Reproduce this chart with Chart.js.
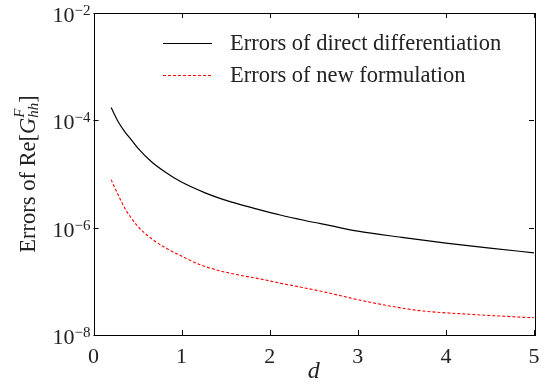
<!DOCTYPE html>
<html>
<head>
<meta charset="utf-8">
<script src="https://cdn.jsdelivr.net/npm/chart.js@4"></script>
<style>
  body { margin: 0; background: #fff; }
  #wrap { width: 552px; height: 387px; }
</style>
</head>
<body>
<div id="wrap"><canvas id="chart" width="552" height="387"></canvas></div>
<script>
const serif = "'Liberation Serif', 'DejaVu Serif', serif";

// d values and errors
const dDirect = [0.2, 0.282, 0.358, 0.434, 0.509, 0.661, 0.813, 0.983, 1.267, 1.55, 1.835, 2.12, 2.4, 2.69, 3.0, 3.5, 4.0, 4.5, 5.0];
const errDirect = [1.73e-4, 9.3e-5, 6.05e-5, 4.24e-5, 2.97e-5, 1.67e-5, 1.09e-5, 7.3e-6, 4.45e-6, 3.05e-6, 2.27e-6, 1.72e-6, 1.36e-6, 1.09e-6, 8.6e-7, 6.6e-7, 5.15e-7, 4.15e-7, 3.4e-7];

const dNew = [0.2, 0.282, 0.358, 0.434, 0.509, 0.661, 0.813, 0.983, 1.21, 1.436, 1.66, 1.89, 2.1, 2.57, 3.14, 3.7, 4.27, 5.0];
const errNew = [7.85e-6, 4.0e-6, 2.26e-6, 1.47e-6, 1.03e-6, 6.2e-7, 4.24e-7, 3.05e-7, 2.04e-7, 1.57e-7, 1.3e-7, 1.11e-7, 9.4e-8, 6.6e-8, 4.07e-8, 2.85e-8, 2.43e-8, 2.09e-8];

const seriesLabels = ['Errors of direct differentiation', 'Errors of new formulation'];
const xTicks = [0, 1, 2, 3, 4, 5];
const yTickExps = [-8, -6, -4, -2];

const toPoints = (xs, ys) => xs.map((x, i) => ({ x: x, y: ys[i] }));

// box, inward ticks, y labels with exponents, y title, legend
const decor = {
    id: 'decor',
    afterDraw(c) {
        const g = c.ctx;
        const a = c.chartArea;
        const sx = c.scales.x, sy = c.scales.y;
        g.save();
        g.strokeStyle = '#000';
        g.lineWidth = 1;
        g.strokeRect(Math.round(a.left) + 0.5, Math.round(a.top) + 0.5,
            Math.round(a.right - a.left), Math.round(a.bottom - a.top));

        const tl = 5;
        g.beginPath();
        xTicks.forEach(v => {
            const px = Math.round(sx.getPixelForValue(v)) + 0.5;
            g.moveTo(px, a.bottom); g.lineTo(px, a.bottom - tl);
            g.moveTo(px, a.top); g.lineTo(px, a.top + tl);
        });
        yTickExps.forEach(e => {
            const py = Math.round(sy.getPixelForValue(Math.pow(10, e))) + 0.5;
            g.moveTo(a.left, py); g.lineTo(a.left + tl, py);
            g.moveTo(a.right, py); g.lineTo(a.right - tl, py);
        });
        g.stroke();

        // y tick labels 10^k
        g.fillStyle = '#222';
        g.textBaseline = 'alphabetic';
        yTickExps.forEach(e => {
            const py = sy.getPixelForValue(Math.pow(10, e));
            const exp = '\u2212' + Math.abs(e);
            g.font = '15px ' + serif;
            const ew = g.measureText(exp).width;
            g.textAlign = 'right';
            g.fillText(exp, a.left - 3, py + 2);
            g.font = '22px ' + serif;
            g.fillText('10', a.left - 3 - ew, py + 9);
        });

        // y axis title: Errors of Re[G^F_hh]
        g.translate(29, (a.top + a.bottom) / 2);
        g.rotate(-Math.PI / 2);
        const big = '22.5px ' + serif, small = 'italic 15px ' + serif;
        const parts = [
            { t: 'Errors of Re[', f: big, dy: 0 },
            { t: 'G', f: 'italic ' + big, dy: 0 },
            { t: 'F', f: small, dy: -9, keep: true },
            { t: 'hh', f: small, dy: 5 },
            { t: ']', f: big, dy: 0 }
        ];
        const widths = parts.map(p => { g.font = p.f; return g.measureText(p.t).width; });
        const subW = Math.max(widths[2], widths[3]);
        const total = widths[0] + widths[1] + subW + widths[4];
        let cx = -total / 2;
        g.textAlign = 'left';
        g.textBaseline = 'middle';
        parts.forEach((p, i) => {
            g.font = p.f;
            g.fillText(p.t, cx, p.dy);
            if (p.keep) return;
            cx += (i === 3) ? subW : widths[i];
        });
        g.setTransform(1, 0, 0, 1, 0, 0);

        // legend
        const rows = [43, 75];
        c.data.datasets.forEach((ds, i) => {
            const y = rows[i] + 0.5;
            g.strokeStyle = ds.borderColor;
            g.lineWidth = ds.borderWidth;
            g.setLineDash(ds.borderDash || []);
            g.beginPath();
            g.moveTo(163, y); g.lineTo(212, y);
            g.stroke();
            g.setLineDash([]);
            g.fillStyle = '#222';
            g.font = '22.5px ' + serif;
            g.textAlign = 'left';
            g.textBaseline = 'middle';
            g.fillText(ds.label, 230, y + 1);
        });
        g.restore();
    }
};

new Chart(document.getElementById('chart').getContext('2d'), {
    type: 'line',
    data: {
        datasets: [{
            label: seriesLabels[0],
            data: toPoints(dDirect, errDirect),
            borderColor: '#000000',
            borderWidth: 1.2,
            pointRadius: 0,
            cubicInterpolationMode: 'monotone',
            fill: false
        }, {
            label: seriesLabels[1],
            data: toPoints(dNew, errNew),
            borderColor: '#ff0000',
            borderWidth: 1.1,
            borderDash: [3, 2],
            pointRadius: 0,
            cubicInterpolationMode: 'monotone',
            fill: false
        }]
    },
    options: {
        responsive: false,
        animation: false,
        layout: { padding: { top: 13, right: 18, left: 0, bottom: 0 } },
        plugins: { legend: { display: false }, tooltip: { enabled: false } },
        scales: {
            x: {
                type: 'linear',
                min: 0,
                max: 5,
                afterBuildTicks: s => { s.ticks = xTicks.map(v => ({ value: v })); },
                afterFit: s => { s.height = 52; },
                grid: { display: false },
                border: { display: false },
                ticks: { color: '#222', font: { family: serif, size: 22 }, padding: 1, maxRotation: 0 },
                title: {
                    display: true,
                    text: 'd',
                    color: '#222',
                    font: { family: serif, size: 24, style: 'italic' },
                    padding: { top: 0, bottom: 1 }
                }
            },
            y: {
                type: 'logarithmic',
                min: 1e-8,
                max: 1e-2,
                afterBuildTicks: s => { s.ticks = yTickExps.map(e => ({ value: Math.pow(10, e) })); },
                afterFit: s => { s.width = 93.5; },
                grid: { display: false },
                border: { display: false },
                ticks: { display: false }
            }
        }
    },
    plugins: [decor]
});
</script>
</body>
</html>
